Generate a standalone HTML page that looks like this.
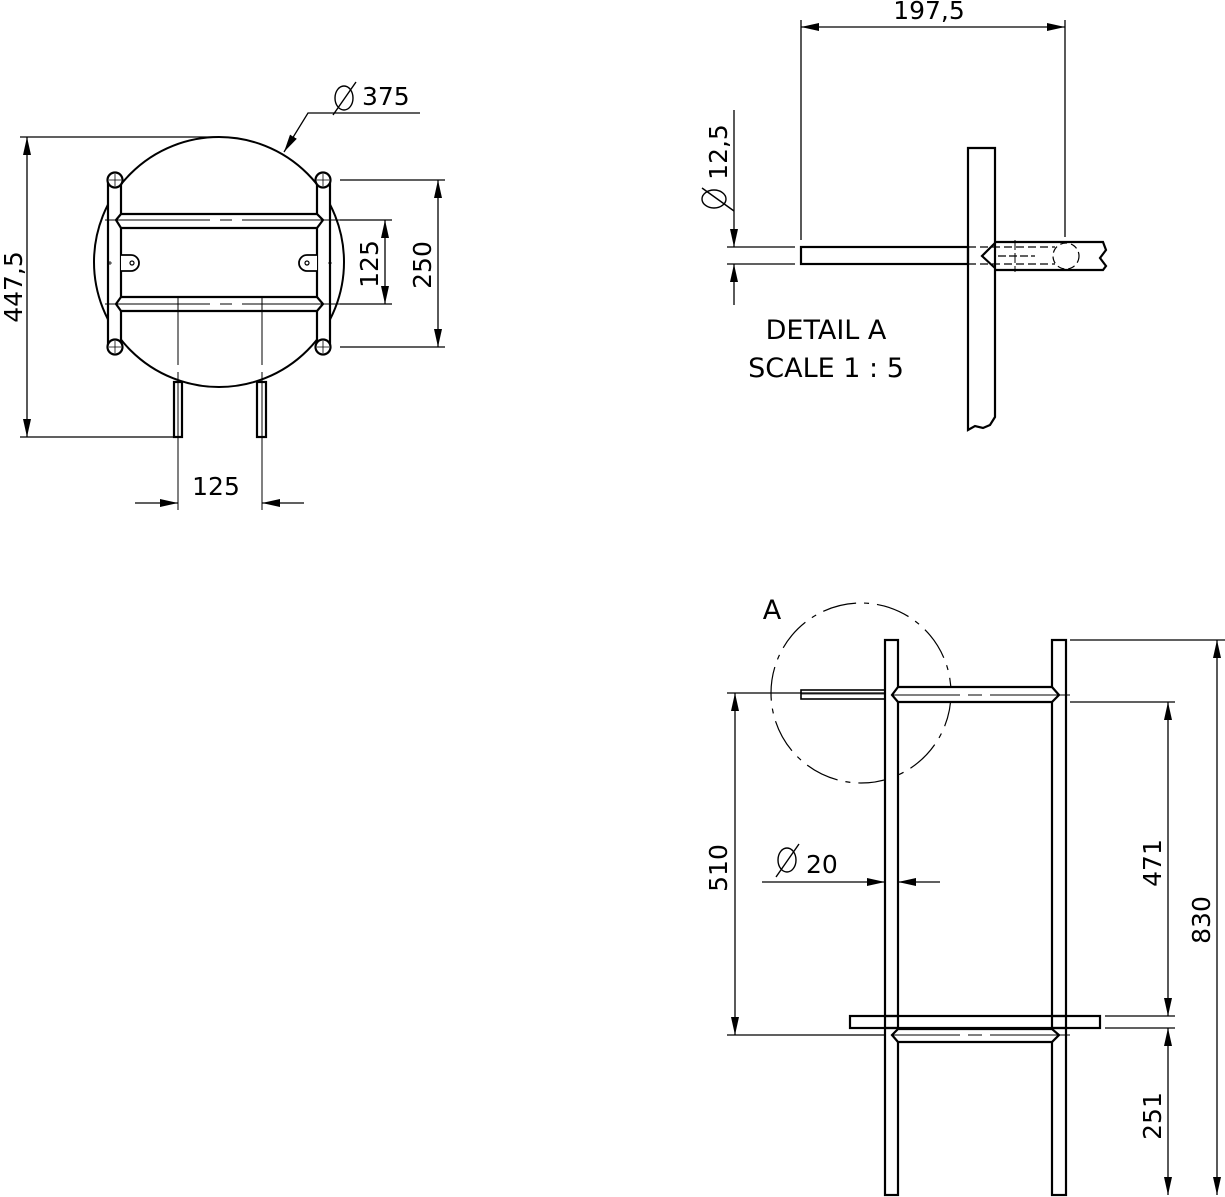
<!DOCTYPE html>
<html><head><meta charset="utf-8"><style>
html,body{margin:0;padding:0;background:#fff;}
svg{display:block;}
text{font-family:"DejaVu Sans","Liberation Sans",sans-serif;font-size:25px;fill:#000;}
</style></head><body>
<svg width="1225" height="1197" viewBox="0 0 1225 1197" xmlns="http://www.w3.org/2000/svg">
<defs>
<marker id="ar" markerWidth="18" markerHeight="10" refX="18" refY="5" orient="auto" markerUnits="userSpaceOnUse"><path d="M0,1 L18,5 L0,9 Z" fill="#000"/></marker>
</defs>
<g fill="none" stroke="#000" stroke-width="1.3">
<!-- ===== TOP LEFT VIEW ===== -->
<circle cx="219" cy="262" r="125" stroke-width="2"/>
<!-- posts -->
<rect x="108" y="180" width="13" height="167" stroke-width="2.2" fill="#fff"/>
<rect x="317" y="180" width="13" height="167" stroke-width="2.2" fill="#fff"/>
<circle cx="115" cy="180" r="7.5" stroke-width="2.2" fill="#fff"/>
<circle cx="323" cy="180" r="7.5" stroke-width="2.2" fill="#fff"/>
<circle cx="115" cy="347" r="7.5" stroke-width="2.2" fill="#fff"/>
<circle cx="323" cy="347" r="7.5" stroke-width="2.2" fill="#fff"/>
<path d="M109,180h12M115,174v12M317,180h12M323,174v12M109,347h12M115,341v12M317,347h12M323,341v12" stroke-width="0.8"/>
<!-- rungs -->
<path d="M121,214 L116,220 L121,228 H317 L323,220 L317,214 Z" stroke-width="2.2" fill="#fff"/>
<path d="M121,297 L116,304 L121,311 H317 L323,304 L317,297 Z" stroke-width="2.2" fill="#fff"/>
<path d="M105,220 H210 M220,220 H232 M242,220 H340" stroke-width="1"/>
<path d="M105,304 H210 M220,304 H232 M242,304 H340" stroke-width="1"/>
<!-- tabs -->
<path d="M121,255 H131 A8,8 0 0 1 131,271 H121" stroke-width="1.8" fill="#fff"/>
<circle cx="132" cy="263" r="2" stroke-width="1.2"/>
<path d="M317,255 H307 A8,8 0 0 0 307,271 H317" stroke-width="1.8" fill="#fff"/>
<circle cx="307" cy="263" r="2" stroke-width="1.2"/>
<path d="M108,263h4M110,261v4M328,263h4M330,261v4" stroke-width="0.8"/>
<!-- legs -->
<rect x="174" y="382" width="8" height="55" stroke-width="2.2" fill="#fff"/>
<rect x="257" y="382" width="9" height="55" stroke-width="2.2" fill="#fff"/>
<path d="M178,297 V365 M178,372 V510 M262,297 V365 M262,372 V510" stroke-width="1"/>
<!-- dims -->
<path d="M20,137 H219 M20,437 H174"/>
<path d="M27,280 V137" marker-end="url(#ar)"/>
<path d="M27,280 V437" marker-end="url(#ar)"/>
<path d="M340,180 H445 M340,347 H445"/>
<path d="M438,265 V180" marker-end="url(#ar)"/>
<path d="M438,265 V347" marker-end="url(#ar)"/>
<path d="M340,220 H392 M340,304 H392"/>
<path d="M385,262 V220" marker-end="url(#ar)"/>
<path d="M385,262 V304" marker-end="url(#ar)"/>
<path d="M135,503 H178" marker-end="url(#ar)"/>
<path d="M304,503 H262" marker-end="url(#ar)"/>
<path d="M420,113 H308 L284,152" marker-end="url(#ar)"/>
<path d="M335,98 A9,12 0 1 0 353,98 A9,12 0 1 0 335,98 M356,82 L333,115" stroke-width="1.4"/>

<!-- ===== DETAIL A ===== -->
<path d="M801,20 V240 M1065,20 V237"/>
<path d="M930,27 H801" marker-end="url(#ar)"/>
<path d="M930,27 H1065" marker-end="url(#ar)"/>
<path d="M968,148 H995 V417 L990,425 L983,428 L975,426 L968,430 Z" stroke-width="2.2" fill="#fff"/>
<rect x="801" y="247" width="167" height="17" stroke-width="2.2"/>
<path d="M995,242 H1103 L1106,250 L1100,258 L1106,266 L1103,270 H995" stroke-width="2.2"/>
<path d="M995,243 L982,256 L995,268" stroke-width="2.2"/>
<path d="M968,247 H1055 M968,264 H1055" stroke-dasharray="8,4" stroke-width="1.2"/>
<path d="M998,256 H1035" stroke-dasharray="8,3" stroke-width="1.2"/>
<path d="M1015,240 V272" stroke-dasharray="10,3" stroke-width="1"/>
<circle cx="1066" cy="256" r="13" stroke-dasharray="7,4" stroke-width="1.2"/>
<path d="M727,247 H795 M727,264 H795"/>
<path d="M734,110 V247" marker-end="url(#ar)"/>
<path d="M734,305 V264" marker-end="url(#ar)"/>
<path d="M714,190 A12,9 0 1 0 714,208 A12,9 0 1 0 714,190 M734,211 L702,188" stroke-width="1.4"/>

<!-- ===== BOTTOM VIEW ===== -->
<circle cx="861" cy="693" r="90" stroke-dasharray="34,8,5,8" stroke-width="1.2"/>
<rect x="885" y="640" width="13" height="555" stroke-width="2.2" fill="#fff"/>
<rect x="1052" y="640" width="14" height="555" stroke-width="2.2" fill="#fff"/>
<rect x="801" y="690" width="84" height="9" stroke-width="1.6"/>
<path d="M801,694 H885" stroke-width="0.8"/>
<path d="M898,687 L892,695 L898,702 H1052 L1059,695 L1052,687 Z" stroke-width="2.2" fill="#fff"/>
<path d="M892,695 H960 M968,695 H982 M990,695 H1070" stroke-width="1"/>
<rect x="850" y="1016" width="250" height="12" stroke-width="2.2" fill="#fff"/>
<rect x="885" y="1016" width="13" height="12" stroke-width="2.2"/>
<rect x="1052" y="1016" width="14" height="12" stroke-width="2.2"/>
<path d="M898,1029 L892,1035 L898,1042 H1052 L1059,1035 L1052,1029 Z" stroke-width="2.2" fill="#fff"/>
<path d="M892,1035 H960 M968,1035 H982 M990,1035 H1070" stroke-width="1"/>
<path d="M727,693 H885 M727,1035 H885"/>
<path d="M735,860 V693" marker-end="url(#ar)"/>
<path d="M735,860 V1035" marker-end="url(#ar)"/>
<path d="M1070,702 H1175 M1105,1016 H1175 M1105,1028 H1175 M1070,640 H1225"/>
<path d="M1168,860 V702" marker-end="url(#ar)"/>
<path d="M1168,860 V1016" marker-end="url(#ar)"/>
<path d="M1168,1110 V1028" marker-end="url(#ar)"/>
<path d="M1168,1110 V1195" marker-end="url(#ar)"/>
<path d="M1217,918 V640" marker-end="url(#ar)"/>
<path d="M1217,918 V1195" marker-end="url(#ar)"/>
<path d="M762,882 H885" marker-end="url(#ar)"/>
<path d="M940,882 H898" marker-end="url(#ar)"/>
<path d="M778,860 A9,12 0 1 0 796,860 A9,12 0 1 0 778,860 M799,844 L776,877" stroke-width="1.4"/>
</g>
<text x="362" y="105">375</text>
<text transform="translate(22,287) rotate(-90)" text-anchor="middle">447,5</text>
<text transform="translate(431,265) rotate(-90)" text-anchor="middle">250</text>
<text transform="translate(378,264) rotate(-90)" text-anchor="middle">125</text>
<text x="216" y="495" text-anchor="middle">125</text>
<text x="929" y="19" text-anchor="middle">197,5</text>
<text transform="translate(727,152) rotate(-90)" text-anchor="middle">12,5</text>
<text x="826" y="339" text-anchor="middle" style="font-size:27px">DETAIL A</text>
<text x="826" y="377" text-anchor="middle" style="font-size:27px">SCALE 1 : 5</text>
<text x="772" y="619" text-anchor="middle" style="font-size:27px">A</text>
<text x="806" y="873">20</text>
<text transform="translate(727,868) rotate(-90)" text-anchor="middle">510</text>
<text transform="translate(1161,863) rotate(-90)" text-anchor="middle">471</text>
<text transform="translate(1161,1116) rotate(-90)" text-anchor="middle">251</text>
<text transform="translate(1210,920) rotate(-90)" text-anchor="middle">830</text>
</svg>
</body></html>
